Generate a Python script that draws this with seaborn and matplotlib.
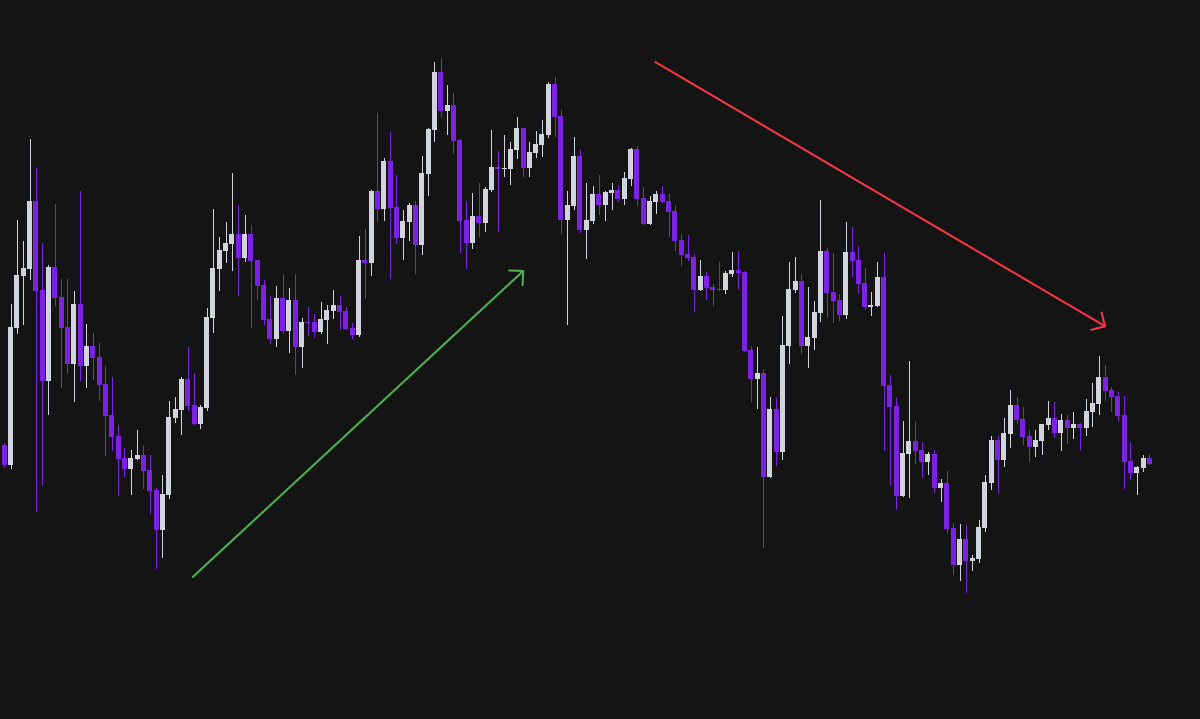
import matplotlib
matplotlib.use("Agg")
import matplotlib.pyplot as plt
import numpy as np
import seaborn as sns

BG = "#141414"
UP_COLOR = "#d1d4dc"
DOWN_COLOR = "#7b22e3"

# candle levels, top-down scale (0 = top edge, 719 = bottom)
# first candle is the one cut by the left edge
opens = [465, 445, 465, 328, 276, 269, 201, 290, 381, 267, 297, 327, 364, 304, 366, 346, 357, 384, 415, 436,
         458, 469, 459, 455, 470, 490, 530, 495, 418, 410, 379, 405, 424, 408, 318, 269, 251, 244, 234, 258,
         234, 260, 285, 319, 339, 298, 331, 300, 347, 322, 322, 332, 320, 311, 305, 311, 328, 335, 260, 263,
         191, 209, 161, 207, 238, 222, 205, 245, 174, 130, 72, 111, 105, 140, 220, 243, 216, 223, 190, 167,
         169, 169, 150, 128, 168, 153, 145, 135, 84, 116, 220, 206, 156, 230, 221, 194, 205, 193, 190, 199,
         179, 149, 198, 224, 202, 194, 201, 211, 240, 254, 257, 290, 276, 287, 289, 290, 274, 270, 272, 350,
         379, 373, 477, 409, 452, 346, 290, 281, 346, 338, 313, 251, 292, 300, 315, 252, 260, 283, 307, 306,
         277, 385, 406, 496, 454, 441, 450, 462, 454, 488, 483, 528, 565, 539, 561, 559, 528, 483, 440, 460,
         434, 405, 419, 436, 447, 441, 425, 418, 433, 420, 428, 424, 428, 412, 404, 377, 390, 396, 415, 461,
         473, 468, 458]
highs = [443, 443, 304, 220, 241, 139, 168, 243, 265, 204, 279, 279, 291, 191, 324, 333, 343, 366, 377, 425,
         448, 450, 430, 445, 455, 488, 475, 401, 397, 377, 347, 373, 405, 308, 209, 237, 222, 173, 205, 215,
         225, 260, 280, 296, 286, 274, 288, 274, 318, 307, 314, 302, 305, 290, 296, 307, 323, 236, 229, 190,
         113, 158, 132, 175, 210, 203, 201, 156, 128, 62, 58, 85, 93, 139, 201, 193, 183, 187, 130, 151,
         135, 142, 117, 128, 142, 131, 120, 82, 77, 110, 191, 137, 150, 183, 186, 175, 191, 183, 185, 172,
         148, 146, 187, 196, 191, 186, 194, 206, 234, 235, 254, 260, 272, 284, 262, 271, 252, 251, 271, 346,
         347, 369, 397, 398, 316, 262, 257, 274, 287, 301, 200, 248, 253, 294, 222, 227, 246, 268, 292, 262,
         253, 375, 398, 421, 361, 422, 442, 452, 450, 479, 471, 523, 524, 525, 555, 520, 475, 436, 436, 418,
         390, 397, 407, 430, 430, 424, 401, 402, 414, 415, 412, 423, 399, 383, 356, 365, 387, 392, 396, 442,
         466, 455, 454]
lows = [469, 467, 468, 333, 324, 279, 511, 485, 414, 305, 387, 373, 401, 380, 387, 379, 400, 455, 450, 495,
        476, 494, 459, 488, 513, 568, 557, 498, 422, 434, 410, 424, 428, 410, 332, 290, 262, 270, 295, 261,
        327, 299, 324, 343, 346, 333, 352, 374, 367, 335, 337, 333, 343, 318, 329, 329, 338, 336, 298, 275,
        221, 220, 278, 243, 259, 240, 273, 254, 195, 141, 117, 134, 153, 252, 268, 248, 236, 231, 191, 231,
        176, 184, 158, 176, 176, 157, 156, 137, 136, 233, 324, 209, 232, 258, 223, 214, 220, 209, 201, 204,
        185, 205, 224, 224, 213, 202, 236, 250, 265, 260, 311, 290, 299, 305, 290, 293, 276, 288, 351, 401,
        408, 547, 477, 465, 459, 363, 292, 353, 367, 349, 321, 317, 322, 320, 318, 276, 293, 309, 315, 306,
        450, 485, 509, 496, 497, 463, 477, 474, 492, 501, 533, 574, 580, 592, 570, 562, 531, 489, 493, 466,
        447, 423, 444, 461, 456, 454, 429, 437, 450, 443, 438, 449, 435, 426, 414, 400, 411, 421, 488, 479,
        494, 471, 464]
closes = [447, 465, 327, 275, 268, 201, 291, 381, 267, 298, 328, 364, 304, 366, 346, 358, 385, 416, 437, 459,
          469, 458, 455, 471, 491, 530, 494, 417, 409, 379, 406, 424, 407, 317, 268, 250, 243, 234, 258, 234,
          261, 286, 320, 339, 298, 331, 300, 347, 322, 323, 332, 319, 310, 305, 312, 329, 335, 260, 263, 191,
          209, 161, 208, 238, 221, 205, 245, 173, 129, 72, 111, 105, 141, 221, 243, 216, 223, 189, 167, 169,
          168, 149, 128, 168, 152, 144, 134, 84, 117, 220, 205, 156, 230, 220, 194, 205, 192, 190, 199, 178,
          149, 199, 224, 201, 194, 202, 212, 241, 255, 258, 290, 276, 288, 290, 290, 273, 270, 273, 351, 379,
          373, 477, 409, 452, 345, 289, 281, 346, 337, 312, 251, 293, 301, 315, 252, 261, 284, 307, 305, 277,
          386, 407, 496, 453, 441, 451, 462, 454, 488, 483, 529, 565, 539, 561, 558, 527, 482, 440, 460, 433,
          405, 420, 437, 447, 440, 424, 418, 433, 420, 428, 424, 428, 411, 403, 377, 391, 397, 416, 462, 473,
          467, 458, 464]

# hand-drawn trend arrows: (candle index, level) -> (candle index, level)
green_start, green_end = (29.8, 577), (82.2, 270)
red_start, red_end = (102.9, 62), (174.2, 327)

o = np.array(opens, dtype=float)
h = np.array(highs, dtype=float)
l = np.array(lows, dtype=float)
c = np.array(closes, dtype=float)
x = np.arange(len(o)) - 1  # index 0 is the clipped candle

sns.set_theme(style="dark", rc={"axes.facecolor": BG, "figure.facecolor": BG})

fig = plt.figure(figsize=(12, 7.19), dpi=100)
ax = fig.add_axes([0, 0, 1, 1])
ax.set_facecolor(BG)

bull = c < o  # scale runs top-down
colors = np.where(bull, UP_COLOR, DOWN_COLOR)

# 1px crisp wicks
ax.vlines(x, h, l, colors=colors, linewidth=0.72, antialiased=False, zorder=2)
ax.bar(x, np.maximum(np.abs(c - o), 1.2), bottom=np.minimum(o, c), width=0.79,
       color=colors, linewidth=0, zorder=3)

for start, end, col in [(green_start, green_end, "#4caf50"), (red_start, red_end, "#f23645")]:
    ax.annotate("", xy=end, xytext=start,
                arrowprops=dict(arrowstyle="->,head_length=0.72,head_width=0.72", color=col,
                                lw=1.5, shrinkA=0, shrinkB=0, mutation_scale=10))

ax.set_xlim(-0.664, 189.0)
ax.set_ylim(719, 0)
ax.axis("off")

fig.savefig("out.png", dpi=100, facecolor=BG)
plt.close(fig)
